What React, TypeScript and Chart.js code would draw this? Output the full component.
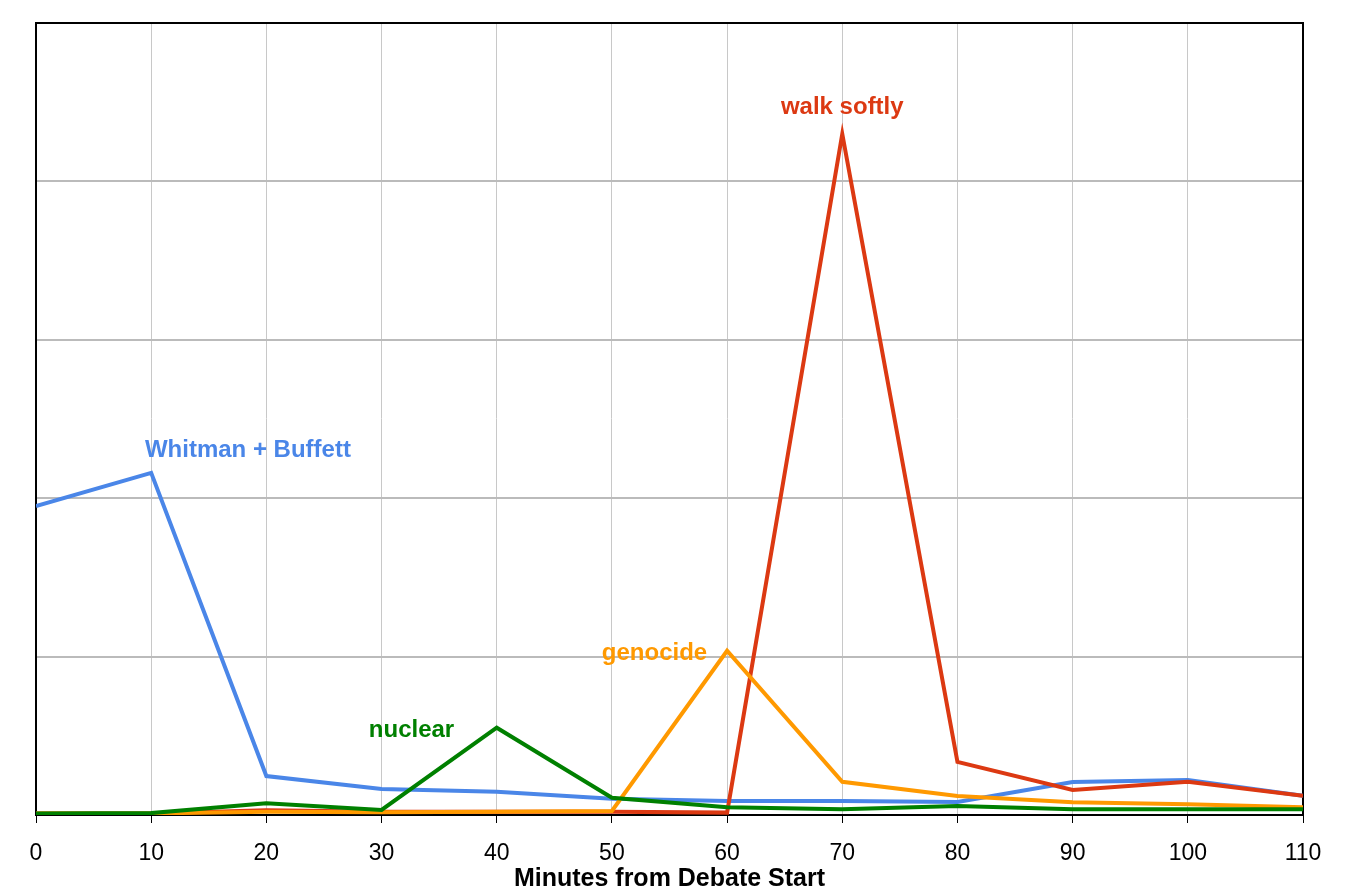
import React, { useEffect, useRef } from "react";
import { Chart, registerables } from "chart.js";

Chart.register(...registerables);

const minutes = [0, 10, 20, 30, 40, 50, 60, 70, 80, 90, 100, 110];
const whitmanBuffett = [1.95, 2.16, 0.246, 0.164, 0.147, 0.103, 0.088, 0.088, 0.082, 0.208, 0.221, 0.122];
const walkSoftly = [0.01, 0.01, 0.03, 0.02, 0.02, 0.02, 0.015, 4.3, 0.335, 0.158, 0.21, 0.122];
const genocide = [0.01, 0.01, 0.02, 0.018, 0.02, 0.025, 1.037, 0.21, 0.12, 0.08, 0.068, 0.049];
const nuclear = [0.01, 0.012, 0.074, 0.032, 0.551, 0.109, 0.049, 0.036, 0.057, 0.036, 0.036, 0.036];

const seriesNames = ["nuclear", "genocide", "walk softly", "Whitman + Buffett"];
const seriesColors = ["#008000", "#ff9900", "#dc3912", "#4a86e8"];
const labelX = [32.6, 53.7, 70, 18.4];
const labelY = [0.535, 1.02, 4.465, 2.3];

const xAxisTitle = "Minutes from Debate Start";
const FONT = "'Liberation Sans', Arial, sans-serif";

export default function App() {
  const ref = useRef<HTMLCanvasElement | null>(null);
  useEffect(() => {
    document.body.style.margin = "0";
    const canvas = ref.current;
    if (!canvas) return;
    const toPts = (arr: number[]) => arr.map((v, i) => ({ x: minutes[i], y: v }));
    const seriesData = [nuclear, genocide, walkSoftly, whitmanBuffett];

    const borderPlugin = {
      id: "frame",
      beforeDatasetsDraw(chart: any) {
        const { ctx, chartArea } = chart;
        ctx.save();
        ctx.strokeStyle = "#000";
        ctx.lineWidth = 2;
        ctx.strokeRect(chartArea.left, chartArea.top, chartArea.right - chartArea.left, chartArea.bottom - chartArea.top);
        ctx.restore();
      },
    };
    const labelPlugin = {
      id: "seriesLabels",
      afterDatasetsDraw(chart: any) {
        const { ctx, scales } = chart;
        ctx.save();
        ctx.font = `bold 24px ${FONT}`;
        ctx.textAlign = "center";
        ctx.textBaseline = "middle";
        seriesNames.forEach((name, i) => {
          ctx.fillStyle = seriesColors[i];
          ctx.fillText(name, scales.x.getPixelForValue(labelX[i]), scales.y.getPixelForValue(labelY[i]));
        });
        ctx.restore();
      },
    };

    const chart = new Chart(canvas, {
      type: "line",
      data: {
        datasets: seriesNames.map((name, i) => ({
          label: name,
          data: toPts(seriesData[i]),
          borderColor: seriesColors[i],
          backgroundColor: seriesColors[i],
          borderWidth: 4,
          pointRadius: 0,
          tension: 0,
          fill: false,
        })),
      },
      options: {
        responsive: false,
        animation: false,
        layout: { padding: { left: 36, right: 42, top: 23, bottom: 0 } },
        plugins: { legend: { display: false }, tooltip: { enabled: false } },
        scales: {
          x: {
            type: "linear",
            min: 0,
            max: 110,
            afterFit: (s: any) => {
              s.height = 81;
            },
            ticks: {
              stepSize: 10,
              color: "#000",
              font: { family: FONT, size: 23 },
              padding: 17,
              maxRotation: 0,
            },
            grid: { color: "#c8c8c8", lineWidth: 1, tickColor: "#000", tickLength: 8 },
            border: { display: true, color: "#000", width: 2 },
            title: {
              display: true,
              text: xAxisTitle,
              color: "#000",
              font: { family: FONT, size: 25, weight: "bold" },
              padding: { top: 0, bottom: 2 },
            },
          },
          y: {
            type: "linear",
            min: 0,
            max: 5,
            afterFit: (s: any) => {
              s.width = 0;
            },
            ticks: { display: false, stepSize: 1 },
            grid: { color: "#bbbbbb", lineWidth: 2, drawTicks: false },
            border: { display: false },
          },
        },
      },
      plugins: [borderPlugin, labelPlugin],
    } as any);
    return () => chart.destroy();
  }, []);
  return <canvas ref={ref} width={1345} height={896} style={{ display: "block" }} />;
}
